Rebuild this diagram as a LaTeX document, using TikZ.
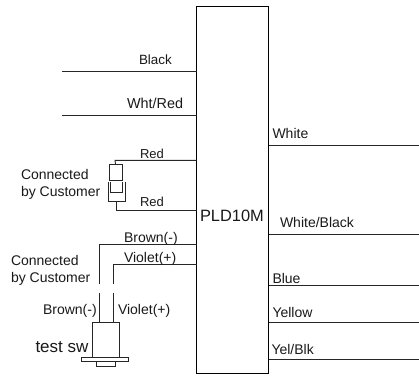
\documentclass[tikz,border=0pt]{standalone}
\usepackage{fontspec}
\setmainfont{Liberation Sans}
\tikzset{
  wire/.style={draw=black!85,line width=0.9pt},
  part/.style={draw=black!85,line width=0.8pt},
  lab/.style={anchor=base west,inner sep=0pt,outer sep=0pt,text=black!90,font=\fontsize{#1}{#1}\selectfont},
  lab/.default=14
}
\begin{document}
\begin{tikzpicture}[x=1pt,y=-1pt]
\useasboundingbox (0,0) rectangle (419,375);
\node[draw=black,line width=0.9pt,minimum width=72pt,minimum height=366.5pt,inner sep=0pt,outer sep=0pt] (pld) at (232.7,189.75) {};
\node[lab=16.4] (name) at (200,221) {PLD10M};
% left free ends
\coordinate (blackend) at (62,71);
\coordinate (whtredend) at (62,115.5);
\coordinate (redtop) at (115,160.3);
\coordinate (redbot) at (116,210);
\coordinate (browncorner) at (99.5,244.5);
\coordinate (violetcorner) at (113,264.5);
\coordinate (browngap) at (99.5,284);
\coordinate (violetgap) at (113,284);
\coordinate (brownlow) at (99.5,293);
\coordinate (violetlow) at (113,293);
\draw[wire] (blackend) -- (blackend -| pld.west);
\draw[wire] (whtredend) -- (whtredend -| pld.west);
% connector
\node[part,minimum width=13pt,minimum height=16pt,inner sep=0pt,outer sep=0pt] (plug) at (115.5,172) {};
\draw[wire] (plug.north) -- (redtop) -- (redtop -| pld.west);
\coordinate (sockbase) at (116,201);
\draw[part] (108,182) -- (108,201) -- (125,201) -- (125,182);
\draw[part] (110.5,182) -- (110.5,192.5) -- (122.5,192.5) -- (122.5,182);
\draw[wire] (sockbase) -- (redbot) -- (redbot -| pld.west);
% switch
\node[part,minimum width=26.5pt,minimum height=35pt,inner sep=0pt,outer sep=0pt] (sw) at (105.75,339.5) {};
\node[part,minimum width=46.5pt,minimum height=4pt,inner sep=0pt,outer sep=0pt] (flange) at (105,359) {};
\node[part,minimum width=19pt,minimum height=5pt,inner sep=0pt,outer sep=0pt] (tab) at (106.2,363.5) {};
\draw[wire] (browngap) -- (browncorner) -- (browncorner -| pld.west);
\draw[wire] (violetgap) -- (violetcorner) -- (violetcorner -| pld.west);
\draw[wire] (brownlow) -- (brownlow |- sw.north);
\draw[wire] (violetlow) -- (violetlow |- sw.north);
% right wires
\coordinate (whiteend) at (419,145.5);
\coordinate (wbend) at (419,234);
\coordinate (blueend) at (419,285);
\coordinate (yellowend) at (419,322.5);
\coordinate (ybend) at (419,359);
\draw[wire] (whiteend -| pld.east) -- (whiteend);
\draw[wire] (wbend -| pld.east) -- (wbend);
\draw[wire] (blueend -| pld.east) -- (blueend);
\draw[wire] (yellowend -| pld.east) -- (yellowend);
\draw[wire] (ybend -| pld.east) -- (ybend);
% labels
\node[lab=13.4] (l1) at (139,64.7) {Black};
\node[lab=14.4] (l2) at (127,108) {Wht/Red};
\node[lab=13] (l3) at (140,158) {Red};
\node[lab=13] (l4) at (140,206) {Red};
\node[lab] (l5) at (21,179) {Connected};
\node[lab] (l6) at (21,196) {by Customer};
\node[lab] (l7) at (11,265) {Connected};
\node[lab] (l8) at (11,282) {by Customer};
\node[lab] (l9) at (124,242) {Brown(-)};
\node[lab] (l10) at (124,262) {Violet(+)};
\node[lab] (l11) at (43,314) {Brown(-)};
\node[lab] (l12) at (118,314) {Violet(+)};
\node[lab=17] (l13) at (35.5,352) {test sw};
\node[lab] (r1) at (272.5,138) {White};
\node[lab] (r2) at (280,227) {White/Black};
\node[lab] (r3) at (272.5,283) {Blue};
\node[lab] (r4) at (272.5,317) {Yellow};
\node[lab] (r5) at (271.5,354) {Yel/Blk};
\end{tikzpicture}
\end{document}
